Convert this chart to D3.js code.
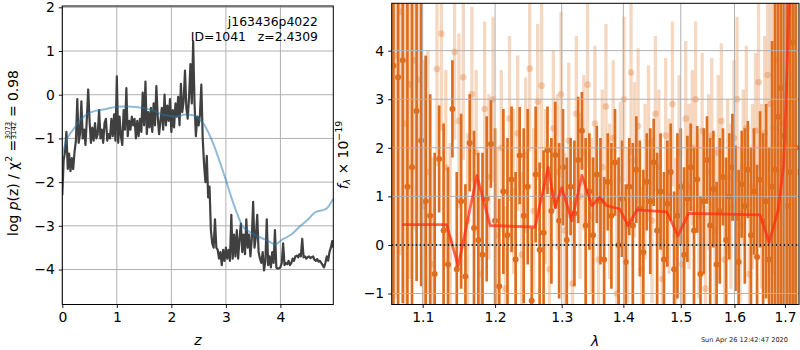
<!DOCTYPE html>
<html><head><meta charset="utf-8">
<script src="https://cdn.jsdelivr.net/npm/d3@7"></script>
<style>body{margin:0;background:#fff} svg{font-family:"DejaVu Sans",sans-serif}</style>
</head><body><svg id="c" width="800" height="350"></svg>
<script>
// ---------- data ----------
const zTicks = [0, 1, 2, 3, 4];
const pzTicks = [-4, -3, -2, -1, 0, 1, 2];
const lamTicks = [1.1, 1.2, 1.3, 1.4, 1.5, 1.6, 1.7];
const fluxTicks = [-1, 0, 1, 2, 3, 4];

const zGrid = [
0,0.025,0.05,0.075,0.1,0.125,0.15,0.175,0.2,0.225,0.25,0.275,0.3,0.325,0.35,0.375,0.4,0.425,0.45,0.475,
0.5,0.525,0.55,0.575,0.6,0.625,0.65,0.675,0.7,0.725,0.75,0.775,0.8,0.825,0.85,0.875,0.9,0.925,0.95,0.975,
1.0,1.025,1.05,1.075,1.1,1.125,1.15,1.175,1.2,1.225,1.25,1.275,1.3,1.325,1.35,1.375,1.4,1.425,1.45,1.475,
1.5,1.525,1.55,1.575,1.6,1.625,1.65,1.675,1.7,1.725,1.75,1.775,1.8,1.825,1.85,1.875,1.9,1.925,1.95,1.975,
2.0,2.025,2.05,2.075,2.1,2.125,2.15,2.175,2.2,2.225,2.25,2.275,2.3,2.325,2.35,2.375,2.4,2.425,2.45,2.475,
2.5,2.525,2.55,2.575,2.6,2.625,2.65,2.675,2.7,2.725,2.75,2.775,2.8,2.825,2.85,2.875,2.9,2.925,2.95,2.975,
3.0,3.025,3.05,3.075,3.1,3.125,3.15,3.175,3.2,3.225,3.25,3.275,3.3,3.325,3.35,3.375,3.4,3.425,3.45,3.475,
3.5,3.525,3.55,3.575,3.6,3.625,3.65,3.675,3.7,3.725,3.75,3.775,3.8,3.825,3.85,3.875,3.9,3.925,3.95,3.975,
4.0,4.025,4.05,4.075,4.1,4.125,4.15,4.175,4.2,4.225,4.25,4.275,4.3,4.325,4.35,4.375,4.4,4.425,4.45,4.475,
4.5,4.525,4.55,4.575,4.6,4.625,4.65,4.675,4.7,4.725,4.75,4.775,4.8,4.825,4.85,4.875,4.9,4.925,4.95,4.97];

const logPz = [
-2.3,-1.5,-1.3,-0.85,-1.7,-1.35,-1.75,-1.45,-1.7,-1.3,-1.05,-0.1,-1.1,-0.9,-0.15,-1.0,-0.8,-1.15,-0.55,0.12,
-0.6,-1.1,-0.75,-1.05,-0.65,-1.0,-0.9,-0.35,-1.0,-0.8,-1.1,-0.65,-0.55,-1.05,-0.9,-1.0,-0.55,-0.95,-0.45,-1.05,
0.42,-1.1,-0.5,-0.95,-1.15,-0.35,-0.8,0.15,-0.95,-0.6,-0.8,-0.5,-0.7,-0.55,-1.0,-0.6,-0.95,-0.55,-0.85,0.05,
-0.7,0.3,-0.9,-0.4,-0.75,-0.3,-0.85,-0.2,-0.7,0.2,-0.5,-0.9,-0.6,-0.3,-0.8,0.0,-0.7,-0.25,-0.6,-0.1,
-0.85,-0.35,-0.75,-0.2,-0.5,-0.05,-0.7,0.25,-0.4,-0.15,0.55,-0.3,-0.55,-0.05,0.7,-0.2,1.22,-0.2,-0.95,-0.5,
-0.7,-0.45,0.23,-1.0,-1.6,-2.0,-1.4,-2.35,-2.1,-3.1,-3.4,-3.5,-2.85,-3.5,-3.55,-3.75,-3.6,-3.9,-3.55,-3.8,
-3.5,-3.75,-3.55,-3.8,-2.75,-3.75,-3.2,-3.7,-3.1,-3.75,-3.3,-2.95,-3.6,-3.2,-3.65,-2.85,-3.5,-3.2,-3.7,-3.3,
-2.45,-3.5,-3.25,-2.75,-3.6,-3.75,-3.85,-3.6,-4.02,-3.8,-2.85,-3.9,-3.7,-3.95,-3.6,-3.85,-3.1,-3.95,-3.98,-3.97,
-3.95,-3.85,-3.4,-3.9,-3.85,-3.88,-3.8,-3.9,-3.85,-3.75,-3.8,-3.7,-3.68,-3.72,-3.65,-3.7,-3.3,-3.72,-3.7,-3.75,
-3.72,-3.7,-3.74,-3.72,-3.7,-3.78,-3.8,-3.76,-3.82,-3.8,-3.85,-3.9,-3.95,-3.85,-3.7,-3.8,-3.6,-3.5,-3.35,-3.5];

const chiZ = [0,0.05,0.1,0.2,0.3,0.45,0.6,0.75,0.9,1.05,1.2,1.35,1.5,1.65,1.8,1.95,2.1,2.25,2.4,2.5,2.6,2.7,2.8,2.9,3.0,3.1,3.2,3.3,3.45,3.6,3.75,3.9,4.05,4.2,4.35,4.5,4.65,4.75,4.85,4.97];
const chiVal = [-1.35,-1.15,-0.98,-0.8,-0.62,-0.45,-0.37,-0.34,-0.30,-0.27,-0.27,-0.28,-0.31,-0.35,-0.44,-0.48,-0.50,-0.45,-0.47,-0.55,-0.68,-0.92,-1.22,-1.58,-1.95,-2.35,-2.7,-3.0,-3.15,-3.25,-3.33,-3.42,-3.3,-3.2,-3.02,-2.86,-2.68,-2.65,-2.6,-2.38];

const darkLam = [1.062,1.068,1.074,1.080,1.086,1.092,1.098,1.104,1.110,1.116,
1.122,1.128,1.134,1.140,1.146,1.152,1.158,1.164,1.170,1.176,
1.182,1.188,1.194,1.200,1.206,1.212,1.218,1.224,1.230,1.236,
1.242,1.248,1.254,1.260,1.266,1.272,1.278,1.284,1.290,1.296,
1.302,1.308,1.314,1.320,1.326,1.332,1.338,1.344,1.350,1.356,
1.362,1.368,1.374,1.380,1.386,1.392,1.398,1.404,1.410,1.416,
1.422,1.428,1.434,1.440,1.446,1.452,1.458,1.464,1.470,1.476,
1.482,1.488,1.494,1.500,1.506,1.512,1.518,1.524,1.530,1.536,
1.542,1.548,1.554,1.560,1.566,1.572,1.578,1.584,1.590,1.596,
1.602,1.608,1.614,1.620,1.626,1.632,1.638,1.644,1.650,1.656,
1.662,1.668,1.674,1.680,1.686,1.692,1.698,1.704,1.710,1.716,1.722];
const darkFlux = [3.69,3.45,3.8,1.2,1.6,2.76,2.15,0.9,0.6,-0.6,
1.77,0.3,-0.4,2.8,-0.5,0.9,-0.65,2.1,0.35,0.1,
-0.2,0.95,2.08,0.5,-0.85,1.1,0.2,1.35,-0.3,1.84,
0.6,1.2,-1.15,1.45,-0.1,0.25,1.95,0.7,1.85,0.5,
1.6,0.1,1.2,0.65,1.75,2.35,0.4,1.1,0.2,1.45,
0.9,-0.3,1.3,0.6,1.7,0.0,0.95,-0.35,1.2,0.4,
1.55,0.75,-0.15,1.3,0.9,1.7,0.3,1.1,-0.3,0.85,
1.5,-0.5,0.6,1.2,-0.2,0.95,1.6,0.3,1.35,-0.6,
0.9,1.75,0.4,1.15,-0.4,0.7,1.4,0.1,1.0,1.6,
0.55,-0.35,1.25,0.8,1.55,0.2,1.1,-0.25,1.35,0.5,
0.9,-0.3,1.2,1.55,2.64,3.23,2.25,0.8,1.5,4.17,2.0];
const darkErr = [6,6,5,5,4,3.5,3,3,2.5,2.5,
1.1,2.2,2,1.0,2,1.8,1.9,1.0,2.0,1.8,
2.1,1.7,0.9,1.9,1.8,1.7,2.0,1.5,1.8,1.0,
1.8,1.6,1.5,1.4,1.8,1.7,0.9,1.5,1.1,1.6,
1.2,1.7,1.0,1.5,1.3,0.8,1.8,1.2,1.6,1.0,
1.3,1.7,1.0,1.5,1.1,1.8,1.2,1.6,1.0,1.7,
1.1,1.4,1.7,1.0,1.5,0.9,1.6,1.2,1.8,1.3,
1.0,1.6,1.7,1.2,1.8,1.3,0.9,1.7,1.1,1.6,
1.5,0.9,1.8,1.2,1.7,1.5,1.0,1.7,1.3,1.1,
1.5,1.9,1.1,1.6,1.0,1.8,1.3,1.9,1.4,1.8,
2.0,2.3,3,3.5,4,4.5,5,6,6,6,6];

const lightLam = [1.065,1.071,1.077,1.083,1.089,1.095,1.101,1.107,1.113,1.119,
1.125,1.131,1.137,1.143,1.149,1.155,1.161,1.167,1.173,1.179,
1.185,1.191,1.197,1.203,1.209,1.215,1.221,1.227,1.233,1.239,
1.245,1.251,1.257,1.263,1.269,1.275,1.281,1.287,1.293,1.299,
1.305,1.311,1.317,1.323,1.329,1.335,1.341,1.347,1.353,1.359,
1.365,1.371,1.377,1.383,1.389,1.395,1.401,1.407,1.413,1.419,
1.425,1.431,1.437,1.443,1.449,1.455,1.461,1.467,1.473,1.479,
1.485,1.491,1.497,1.503,1.509,1.515,1.521,1.527,1.533,1.539,
1.545,1.551,1.557,1.563,1.569,1.575,1.581,1.587,1.593,1.599,
1.605,1.611,1.617,1.623,1.629,1.635,1.641,1.647,1.653,1.659,
1.665,1.671,1.677,1.683,1.689,1.695,1.701,1.707,1.713,1.719,1.725];
const lightFlux = [3.9,4.8,2.5,3.3,3.8,3.4,0.8,1.5,-0.4,3.62,
4.35,1.6,0.1,3.97,2.55,3.45,0.5,3.1,1.9,-0.6,
2.8,1.4,3.0,0.2,2.0,-0.9,2.6,1.1,2.3,-0.2,
1.85,3.63,0.7,2.95,3.28,1.2,-0.5,2.4,1.5,3.1,
0.3,2.15,-0.8,2.7,1.0,1.9,3.3,0.6,2.5,-0.3,
1.6,2.85,0.9,2.2,-1.0,1.35,3.0,0.4,3.55,1.75,
2.45,-0.5,1.3,2.1,0.5,2.7,1.6,-0.7,2.25,1.0,
2.9,0.2,1.9,-0.4,2.6,1.2,2.0,3.0,0.6,2.35,
-0.9,1.5,2.25,0.3,1.9,2.55,-0.3,1.4,0.8,2.2,
3.0,0.4,1.6,2.4,-0.6,1.2,2.35,3.35,1.0,2.3,
3.5,2.9,2.4,3.8,1.5,2.5,3.3,1.0,2.0,3.0,1.5];
const lightErr = [5,5,5,4,3.5,3,3,2.5,2.2,2,
2,2,2,1.8,1.8,1.7,1.8,1.8,1.7,1.8,
1.8,1.7,1.7,1.8,1.6,1.7,1.7,1.7,1.6,1.7,
1.6,1.7,1.7,1.6,1.7,1.6,1.7,1.6,1.6,1.7,
1.6,1.6,1.7,1.6,1.7,1.6,1.7,1.6,1.6,1.7,
1.6,1.7,1.6,1.6,1.7,1.6,1.7,1.6,1.7,1.6,
1.6,1.7,1.6,1.6,1.7,1.6,1.6,1.7,1.6,1.6,
1.7,1.6,1.6,1.7,1.6,1.7,1.6,1.6,1.7,1.6,
1.7,1.6,1.6,1.7,1.6,1.6,1.7,1.6,1.7,1.6,
1.7,1.6,1.6,1.7,1.6,1.7,1.6,1.8,1.9,2.0,
2.3,2.5,3,3.5,4,5,5,5,6,6,6];

const modelLam = [1.073,1.132,1.148,1.174,1.193,1.259,1.279,1.290,1.300,1.316,1.332,1.348,1.361,1.372,1.394,1.408,1.423,1.475,1.495,1.514,1.650,1.668,1.686,1.697,1.702,1.710];
const modelFlux = [0.42,0.42,-0.43,1.43,0.40,0.37,1.6,0.77,1.18,0.5,1.43,0.81,0.98,0.81,0.74,0.40,0.72,0.68,0.19,0.65,0.62,0.05,0.71,1.6,2.9,5.5];

const titleLine1 = "j163436p4022";
const titleLine2 = "ID=1041   z=2.4309";
const stamp = "Sun Apr 26 12:42:47 2020";

// ---------- drawing ----------
const svg = d3.select("#c");
const FS = 13.9;
const gridCol = "#b0b0b0";

const L = {x0: 62.3, x1: 333.3, y0: 6, y1: 304.5};
const xL = d3.scaleLinear().domain([0, 4.97]).range([L.x0, L.x1]);
const yL = d3.scaleLinear().domain([-4.8, 2.03]).range([L.y1, L.y0]);

const R = {x0: 391.7, x1: 799, y0: 3.3, y1: 304.5};
const xR = d3.scaleLog().domain([1.0598, 1.729]).range([R.x0, R.x1]);
const yR = d3.scaleLinear().domain([-1.226, 4.975]).range([R.y1, R.y0]);

const defs = svg.append("defs");
defs.append("clipPath").attr("id", "clipL").append("rect")
  .attr("x", L.x0).attr("y", L.y0).attr("width", L.x1 - L.x0).attr("height", L.y1 - L.y0);
defs.append("clipPath").attr("id", "clipR").append("rect")
  .attr("x", R.x0).attr("y", R.y0).attr("width", R.x1 - R.x0).attr("height", R.y1 - R.y0);

function grid(P, xs, ys, xt, yt) {
  const g = svg.append("g");
  g.selectAll(".gx").data(xt).join("line")
    .attr("x1", d => xs(d)).attr("x2", d => xs(d)).attr("y1", P.y0).attr("y2", P.y1)
    .attr("stroke", gridCol).attr("stroke-width", 1);
  g.selectAll(".gy").data(yt).join("line")
    .attr("y1", d => ys(d)).attr("y2", d => ys(d)).attr("x1", P.x0).attr("x2", P.x1)
    .attr("stroke", gridCol).attr("stroke-width", 1);
}
grid(L, xL, yL, zTicks, pzTicks);

// left lines
const gLc = svg.append("g").attr("clip-path", "url(#clipL)");
gLc.append("path").datum(zGrid.map((z, i) => [z, logPz[i]]))
  .attr("d", d3.line().x(d => xL(d[0])).y(d => yL(d[1])))
  .attr("fill", "none").attr("stroke", "#404040").attr("stroke-width", 2.2).attr("stroke-linejoin", "round");
gLc.append("path").datum(chiZ.map((z, i) => [z, chiVal[i]]))
  .attr("d", d3.line().curve(d3.curveMonotoneX).x(d => xL(d[0])).y(d => yL(d[1])))
  .attr("fill", "none").attr("stroke", "#1f77b4").attr("stroke-opacity", 0.5).attr("stroke-width", 2);

// right spectrum
const gRc = svg.append("g").attr("clip-path", "url(#clipR)");
const orange = "rgb(222,110,30)";
const lightData = lightLam.map((l, i) => ({l, f: lightFlux[i], e: lightErr[i]}));
const darkData = darkLam.map((l, i) => ({l, f: darkFlux[i], e: darkErr[i]}));

gRc.append("g").selectAll("line").data(lightData).join("line")
  .attr("x1", d => xR(d.l)).attr("x2", d => xR(d.l))
  .attr("y1", d => yR(d.f - d.e)).attr("y2", d => yR(d.f + d.e))
  .attr("stroke", orange).attr("stroke-opacity", 0.28).attr("stroke-width", 3.3);
gRc.append("g").selectAll("circle").data(lightData).join("circle")
  .attr("cx", d => xR(d.l)).attr("cy", d => yR(d.f)).attr("r", 3.3)
  .attr("fill", orange).attr("fill-opacity", 0.3);

gRc.append("g").selectAll("line").data(darkData).join("line")
  .attr("x1", d => xR(d.l)).attr("x2", d => xR(d.l))
  .attr("y1", d => yR(d.f - d.e)).attr("y2", d => yR(d.f + d.e))
  .attr("stroke", orange).attr("stroke-width", 2.7);
gRc.append("g").selectAll("circle").data(darkData).join("circle")
  .attr("cx", d => xR(d.l)).attr("cy", d => yR(d.f)).attr("r", 3)
  .attr("fill", orange);

grid(R, xR, yR, lamTicks, fluxTicks);

const gRc2 = svg.append("g").attr("clip-path", "url(#clipR)");
gRc2.append("path").datum(modelLam.map((l, i) => [l, modelFlux[i]]))
  .attr("d", d3.line().x(d => xR(d[0])).y(d => yR(d[1])))
  .attr("fill", "none").attr("stroke", "#ff2a10").attr("stroke-opacity", 0.72)
  .attr("stroke-width", 2.8).attr("stroke-linejoin", "round");

gRc2.append("line").attr("x1", R.x0).attr("x2", R.x1).attr("y1", yR(0)).attr("y2", yR(0))
  .attr("stroke", "#000").attr("stroke-width", 1.5).attr("stroke-dasharray", "1.5,2.5");

// axes
function axes(P, xs, ys, xt, yt, xfmt, yfmt) {
  const ax = svg.append("g").attr("transform", `translate(0,${P.y1})`)
    .call(d3.axisBottom(xs).tickValues(xt).tickFormat(xfmt).tickSize(3.5).tickPadding(4));
  const ay = svg.append("g").attr("transform", `translate(${P.x0},0)`)
    .call(d3.axisLeft(ys).tickValues(yt).tickFormat(yfmt).tickSize(3.5).tickPadding(4));
  [ax, ay].forEach(a => {
    a.select(".domain").remove();
    a.selectAll("text").attr("font-size", FS).attr("font-family", "DejaVu Sans").attr("fill", "#000");
    a.selectAll("line").attr("stroke", "#000").attr("stroke-width", 0.9);
  });
  svg.append("rect").attr("x", P.x0).attr("y", P.y0).attr("width", P.x1 - P.x0).attr("height", P.y1 - P.y0)
    .attr("fill", "none").attr("stroke", "#000").attr("stroke-width", 1);
}
const fmtInt = d => d3.format("d")(d);
axes(L, xL, yL, zTicks, pzTicks, fmtInt, fmtInt);
axes(R, xR, yR, lamTicks, fluxTicks, d3.format(".1f"), fmtInt);

// title text
svg.append("text").attr("x", 318).attr("y", 25.5).attr("text-anchor", "end")
  .attr("font-size", 12.4).text(titleLine1);
svg.append("text").attr("x", 318).attr("y", 40.5).attr("text-anchor", "end")
  .attr("font-size", 12.4).style("white-space", "pre").text(titleLine2);

// x labels
svg.append("text").attr("x", xL(2.485)).attr("y", 345).attr("text-anchor", "middle")
  .attr("font-size", FS).attr("font-style", "italic").text("z");
svg.append("text").attr("x", 595).attr("y", 346).attr("text-anchor", "middle")
  .attr("font-size", FS).attr("font-style", "italic").text("λ");

// timestamp
svg.append("text").attr("x", 788).attr("y", 342).attr("text-anchor", "end")
  .attr("font-size", 6.6).attr("fill", "#222").text(stamp);

// left y label
{
  const g = svg.append("g");
  const a = g.append("text").attr("font-size", FS).attr("x", 0).attr("y", 0);
  a.append("tspan").text("log ");
  a.append("tspan").attr("font-style", "italic").text("p");
  a.append("tspan").text("(z) / χ");
  a.append("tspan").attr("font-size", 9.5).attr("dy", -5.5).text("2");
  a.append("tspan").attr("dy", 5.5).text(" = ");
  const wA = a.node().getComputedTextLength();
  const num = g.append("text").attr("font-size", 6.8).attr("y", -7.2).text("3073");
  const den = g.append("text").attr("font-size", 6.8).attr("y", -1.3).text("3142");
  const wF = Math.max(num.node().getComputedTextLength(), den.node().getComputedTextLength()) + 1;
  num.attr("x", wA + 0.5); den.attr("x", wA + 0.5);
  g.append("line").attr("x1", wA).attr("x2", wA + wF).attr("y1", -6.2).attr("y2", -6.2)
    .attr("stroke", "#000").attr("stroke-width", 0.6);
  const b = g.append("text").attr("font-size", FS).attr("x", wA + wF).attr("y", 0).style("white-space", "pre").text(" = 0.98");
  const wT = wA + wF + b.node().getComputedTextLength();
  g.attr("transform", `translate(17.5,${153 + wT / 2}) rotate(-90)`);
}
// right y label
{
  const g = svg.append("g");
  const t = g.append("text").attr("font-size", FS).attr("x", 0).attr("y", 0);
  t.append("tspan").attr("font-style", "italic").text("f");
  t.append("tspan").attr("font-size", 9.5).attr("font-style", "italic").attr("dy", 2.5).text("λ");
  t.append("tspan").attr("dy", -2.5).text(" × 10");
  t.append("tspan").attr("font-size", 9.5).attr("dy", -5.5).text("−19");
  const w = t.node().getComputedTextLength();
  g.attr("transform", `translate(347.5,${155 + w / 2}) rotate(-90)`);
}
</script></body></html>
